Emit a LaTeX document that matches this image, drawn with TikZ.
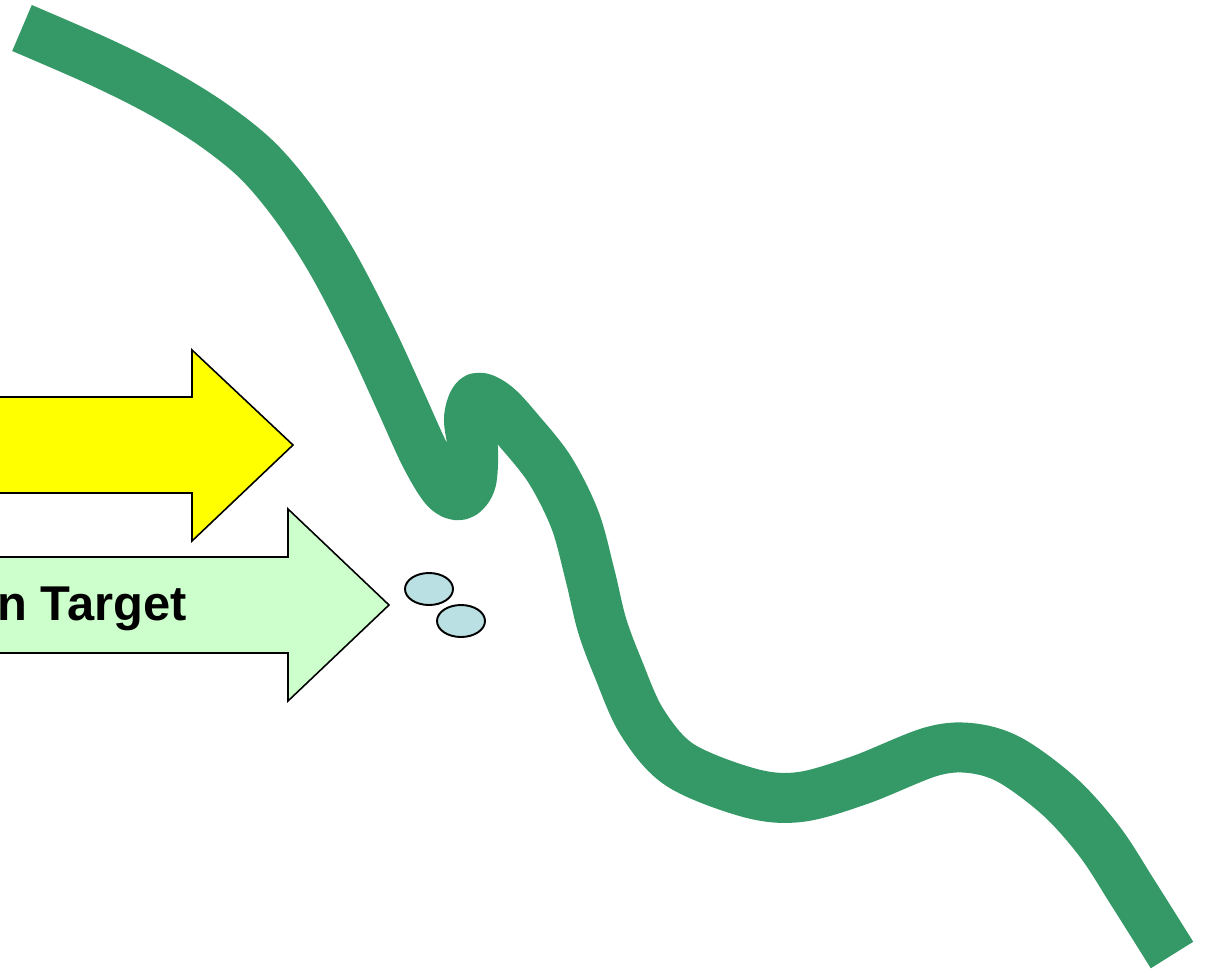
\documentclass[tikz,border=0pt]{standalone}
\usepackage{fontspec}
\setmainfont{Liberation Sans}
\definecolor{riverGreen}{RGB}{52,153,102}
\definecolor{paleGreen}{RGB}{204,255,204}
\definecolor{signYellow}{RGB}{255,255,0}
\definecolor{dropBlue}{RGB}{187,224,227}
\begin{document}
\begin{tikzpicture}[x=0.02cm,y=-0.02cm,
  bigarrow/.style={draw=black,line width=0.9pt,line join=miter},
  drop/.style={draw=black,line width=1.1pt,fill=dropBlue}]
  \useasboundingbox (0,0) rectangle (1207,970);
  \clip (0,0) rectangle (1207,970);
  % the winding river
  \draw[riverGreen,line width=1cm,line join=round]
    plot[smooth,tension=0.55] coordinates {(22,28) (100,62) (160,92) (212,124)
      (257,160) (295,205) (332,262) (370,335) (400,400) (425,455) (445,488)
      (460,495) (471,482) (473,450) (469,418) (477,398) (496,406) (520,432)
      (550,470) (575,520) (590,575) (602,625) (618,668) (642,722) (680,765)
      (750,793) (800,797) (860,780) (930,752) (970,748) (1010,760) (1060,797)
      (1100,842) (1133,893) (1172,955)};
  % arrows coming in from the left
  \draw[bigarrow,fill=signYellow] (-60,397) -- (192,397) -- (192,350) -- (293,445)
    -- (192,541) -- (192,493) -- (-60,493) -- cycle;
  \draw[bigarrow,fill=paleGreen] (-60,557) -- (288,557) -- (288,509) -- (389,605)
    -- (288,701) -- (288,653) -- (-60,653) -- cycle;
  \node[anchor=east,inner sep=0pt,font=\bfseries\fontsize{27.8}{33}\selectfont] (target) at (187,608) {Main Target};
  % two drops
  \draw[drop] (429,589) ellipse [x radius=24,y radius=16];
  \draw[drop] (461,621) ellipse [x radius=24,y radius=16];
\end{tikzpicture}
\end{document}
